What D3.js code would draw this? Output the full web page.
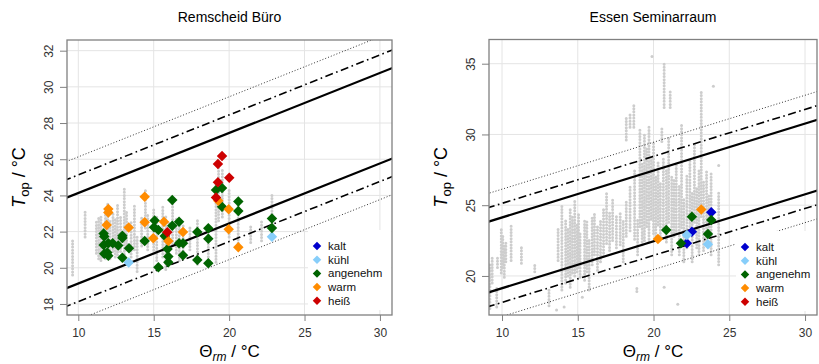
<!DOCTYPE html>
<html>
<head>
<meta charset="utf-8">
<script src="https://cdn.jsdelivr.net/npm/d3@7"></script>
<style>
    body { margin: 0; background: #fff; }
    svg { font-family: "Liberation Sans", Arial, sans-serif; }
</style>
</head>
<body>
<svg id="chart" width="819" height="364"></svg>
<script>
// categories of the comfort vote
var voteLabels = ["kalt", "kühl", "angenehm", "warm", "heiß"];
var voteColors = ["#0000cd", "#87cefa", "#006400", "#ff8c00", "#cd0000"];

// axis ticks
var xTicks = [10, 15, 20, 25, 30];
var remscheidYTicks = [18, 20, 22, 24, 26, 28, 30, 32];
var essenYTicks = [20, 25, 30, 35];

// comfort boundaries, value at Θrm = 9 and Θrm = 31
var boundX = [9, 31];
var upperII = [23.8, 31.1];
var lowerII = [18.8, 26.1];
var upperIII = [24.8, 32.1];
var lowerIII = [17.8, 25.1];
var upperIV = [25.8, 33.1];
var lowerIV = [16.8, 24.1];

// hourly measurements, as columns [Θrm, Top from, Top to]
var remscheidMeasured = [
    [9.62, 19.6, 21.6], [10.45, 21.7, 23.2], [11.2, 20.8, 22.6], [11.35, 20.5, 22.8],
    [11.5, 20.4, 22.9], [11.65, 20.6, 22.3], [11.8, 20.5, 23.4], [11.95, 20.6, 23.6],
    [12.1, 20.5, 22.7], [12.3, 20.9, 23.0], [12.45, 20.6, 22.8], [12.6, 20.7, 23.5],
    [12.8, 20.9, 22.9], [13.05, 20.4, 24.4], [13.2, 21.0, 23.1], [13.5, 20.6, 22.5],
    [13.72, 21.0, 23.4], [13.9, 19.8, 21.7], [14.2, 21.2, 22.8], [14.45, 22.2, 24.3],
    [14.6, 21.0, 23.0], [15.0, 20.8, 23.2], [15.2, 20.4, 22.8], [15.6, 20.6, 23.4],
    [15.8, 19.9, 22.9], [16.0, 20.4, 22.5], [16.25, 21.3, 24.0], [16.5, 20.8, 22.8],
    [16.7, 20.4, 22.6], [16.95, 20.6, 22.4], [17.4, 21.0, 22.3], [17.9, 20.2, 22.6],
    [18.62, 20.1, 22.4], [19.13, 20.3, 24.6], [19.3, 22.6, 26.0], [19.55, 22.8, 25.4],
    [20.0, 21.7, 24.3], [20.6, 21.2, 23.9], [21.43, 21.4, 22.4], [22.15, 21.5, 22.6],
    [22.84, 21.6, 24.1]
];

var essenMeasured = [
    [9.2, 17.7, 20.8], [9.35, 19.5, 21.4], [9.65, 17.8, 19.3], [9.7, 20.6, 21.4],
    [9.95, 20.2, 23.4], [10.05, 20.6, 22.8], [10.15, 19.9, 22.2], [10.25, 21.0, 22.5],
    [10.6, 21.1, 23.7], [11.28, 20.9, 22.1], [12.16, 20.3, 20.9], [13.1, 17.9, 19.0],
    [13.6, 17.6, 17.7], [13.7, 21.1, 23.3], [13.95, 19.0, 25.0], [14.1, 17.8, 17.9],
    [14.2, 19.5, 24.0], [14.35, 20.0, 23.5], [14.5, 19.2, 24.7], [14.65, 20.2, 24.2],
    [14.8, 20.0, 25.4], [14.95, 20.3, 23.6], [15.05, 20.6, 24.5], [15.15, 19.9, 23.0],
    [15.3, 18.5, 18.7], [15.45, 19.7, 24.0], [15.6, 20.3, 23.9], [15.75, 19.0, 22.6],
    [15.95, 20.8, 24.3], [16.1, 21.5, 24.4], [16.3, 20.4, 23.6], [16.5, 21.0, 24.0],
    [16.7, 21.4, 24.8], [16.9, 22.3, 25.9], [17.1, 21.8, 24.6], [17.3, 22.5, 25.5],
    [17.55, 22.0, 24.2], [17.8, 22.2, 24.6], [18.0, 21.0, 24.0], [18.2, 22.8, 25.3],
    [18.2, 29.6, 31.3], [18.45, 23.2, 26.4], [18.45, 30.5, 31.5], [18.7, 30.5, 32.1],
    [18.75, 22.6, 27.6], [18.9, 18.9, 19.3], [18.95, 21.5, 24.0], [19.1, 23.5, 30.5],
    [19.25, 22.2, 28.0], [19.4, 22.5, 30.0], [19.55, 23.5, 29.0], [19.7, 22.4, 30.6],
    [19.85, 24.0, 28.5], [19.9, 35.5, 35.6], [20.0, 23.0, 29.4], [20.15, 22.6, 27.0],
    [20.3, 23.6, 28.0], [20.45, 22.8, 26.6], [20.55, 29.5, 30.5], [20.65, 23.2, 28.4],
    [20.7, 31.9, 35.0], [20.7, 19.2, 19.3], [20.85, 22.4, 27.5], [21.0, 23.8, 29.8],
    [21.1, 31.9, 33.2], [21.2, 21.5, 27.0], [21.35, 22.8, 26.8], [21.5, 23.0, 28.0],
    [21.6, 18.0, 18.1], [21.7, 21.5, 26.5], [21.85, 23.4, 30.8], [22.0, 21.0, 25.6],
    [22.2, 22.0, 27.2], [22.4, 23.5, 28.3], [22.55, 21.0, 26.0], [22.7, 23.8, 29.4],
    [22.85, 22.0, 26.3], [23.0, 21.5, 27.5], [23.15, 24.2, 33.0], [23.3, 21.8, 26.8],
    [23.5, 22.3, 27.4], [23.65, 22.8, 25.8], [23.8, 21.5, 27.3], [23.95, 33.4, 33.5],
    [24.3, 20.8, 26.0], [24.3, 27.8, 27.9]
];

// comfort votes [Θrm, Top]
var remscheidKalt = [];
var remscheidKuehl = [[13.34, 20.29], [22.84, 21.72]];
var remscheidAngenehm = [
    [11.68, 21.9], [11.72, 21.73], [11.68, 21.26], [11.72, 20.77], [11.92, 20.84],
    [11.99, 20.66], [11.99, 21.36], [12.28, 21.36], [12.65, 21.23], [12.92, 21.77],
    [12.92, 21.65], [12.92, 20.56], [13.36, 21.08], [14.40, 21.48], [15.02, 22.24],
    [15.06, 22.61], [15.31, 22.09], [15.31, 20.03], [15.73, 21.76], [15.92, 21.04],
    [15.97, 20.62], [15.97, 20.31], [16.23, 23.75], [16.23, 22.33], [16.68, 22.55],
    [16.68, 21.36], [16.94, 21.36], [16.94, 20.69], [17.89, 21.98], [17.89, 20.43],
    [18.62, 22.18], [18.62, 21.61], [18.62, 20.25], [19.13, 24.30], [19.53, 24.41],
    [19.53, 23.38], [20.61, 23.66], [20.61, 23.14], [22.84, 22.72], [22.84, 22.20]
];
var remscheidWarm = [
    [11.99, 23.25], [11.99, 23.05], [11.88, 22.37], [13.34, 22.22], [14.40, 23.93],
    [14.40, 22.52], [14.97, 21.63], [15.68, 22.55], [15.97, 21.48], [16.94, 21.98],
    [19.28, 23.71], [19.97, 23.23], [19.97, 22.13], [20.61, 21.13]
];
var remscheidHeiss = [
    [19.26, 25.74], [19.53, 26.18], [19.26, 24.73], [19.13, 23.88], [20.01, 24.98],
    [15.90, 21.96]
];

var essenKalt = [[22.20, 22.31], [22.53, 23.13], [23.81, 24.5]];
var essenKuehl = [[22.20, 22.90], [23.59, 22.24]];
var essenAngenehm = [[20.84, 23.25], [21.81, 22.31], [22.53, 24.19], [23.81, 23.96], [23.59, 22.97]];
var essenWarm = [[20.29, 22.61], [23.15, 24.69]];
var essenHeiss = [];

var svg = d3.select("#chart");

var GRAY_DOT = "#cdcdcd";
var GRID = "#e4e4e4";
var FRAME = "#808080";

function diamond(size) {
    // R pch 18: a square turned by 45 degrees, size = diagonal
    var s = size / Math.SQRT2;
    return d3.symbol().type(d3.symbolSquare).size(s * s)();
}

function drawPanel(p) {
    var x = d3.scaleLinear().domain(p.xDomain).range([p.left, p.right]);
    var y = d3.scaleLinear().domain(p.yDomain).range([p.bottom, p.top]);
    var g = svg.append("g");

    g.append("clipPath").attr("id", p.id + "-clip")
        .append("rect")
        .attr("x", p.left).attr("y", p.top)
        .attr("width", p.right - p.left).attr("height", p.bottom - p.top);

    var plot = g.append("g").attr("clip-path", "url(#" + p.id + "-clip)");

    // grid
    plot.selectAll(".gx").data(xTicks).enter().append("line")
        .attr("x1", function(d) { return x(d); })
        .attr("x2", function(d) { return x(d); })
        .attr("y1", p.top).attr("y2", p.bottom)
        .attr("stroke", GRID).attr("stroke-width", 1);
    plot.selectAll(".gy").data(p.yTicks).enter().append("line")
        .attr("y1", function(d) { return y(d); })
        .attr("y2", function(d) { return y(d); })
        .attr("x1", p.left).attr("x2", p.right)
        .attr("stroke", GRID).attr("stroke-width", 1);

    // measured hours
    plot.selectAll(".run").data(p.measured).enter().append("path")
        .attr("d", function(d) {
            return "M" + x(d[0]) + "," + y(d[1]) + "L" + x(d[0]) + "," + (y(d[2]) - 0.01);
        })
        .attr("fill", "none")
        .attr("stroke", GRAY_DOT)
        .attr("stroke-width", 3)
        .attr("stroke-linecap", "round")
        .attr("stroke-dasharray", "0 3.1");

    // comfort boundaries
    var bounds = [
        { v: upperIV, w: 0.8, dash: "1 2" },
        { v: lowerIV, w: 0.8, dash: "1 2" },
        { v: upperIII, w: 1.6, dash: "8 3.5 1.6 3.5" },
        { v: lowerIII, w: 1.6, dash: "8 3.5 1.6 3.5" },
        { v: upperII, w: 2.2, dash: null },
        { v: lowerII, w: 2.2, dash: null }
    ];
    bounds.forEach(function(b) {
        plot.append("line")
            .attr("x1", x(boundX[0])).attr("y1", y(b.v[0]))
            .attr("x2", x(boundX[1])).attr("y2", y(b.v[1]))
            .attr("stroke", "#000")
            .attr("stroke-width", b.w)
            .attr("stroke-dasharray", b.dash);
    });

    // votes
    var mark = diamond(10.5);
    p.votes.forEach(function(pts, i) {
        plot.selectAll(".v" + i).data(pts).enter().append("path")
            .attr("d", mark)
            .attr("transform", function(d) {
                return "translate(" + x(d[0]) + "," + y(d[1]) + ") rotate(45)";
            })
            .attr("fill", voteColors[i]);
    });

    // legend
    g.append("rect")
        .attr("x", p.legendX).attr("y", p.legendY)
        .attr("width", p.right - p.legendX - 0.5).attr("height", 80)
        .attr("fill", "#fff");
    var item = g.selectAll(".leg").data(voteLabels).enter().append("g")
        .attr("transform", function(d, i) {
            return "translate(" + (p.legendX + 9) + "," + (p.legendY + 16 + i * 13.7) + ")";
        });
    item.append("path")
        .attr("d", diamond(8.5))
        .attr("transform", "rotate(45)")
        .attr("fill", function(d, i) { return voteColors[i]; });
    item.append("text")
        .attr("x", 11).attr("dy", "0.35em")
        .style("font-size", "11.5px")
        .attr("fill", "#111")
        .text(function(d) { return d; });

    // frame
    g.append("rect")
        .attr("x", p.left).attr("y", p.top)
        .attr("width", p.right - p.left).attr("height", p.bottom - p.top)
        .attr("fill", "none").attr("stroke", FRAME).attr("stroke-width", 1.3);

    // axes
    var ax = g.append("g")
        .attr("transform", "translate(0," + p.bottom + ")")
        .call(d3.axisBottom(x).tickValues(xTicks).tickSize(6).tickFormat(d3.format("d")));
    ax.select(".domain").remove();
    ax.selectAll("line").attr("stroke", FRAME);
    ax.selectAll("text")
        .attr("dy", null).attr("y", 22)
        .attr("fill", "#333")
        .style("font-size", "12px").style("font-family", null);

    var ay = g.append("g")
        .attr("transform", "translate(" + p.left + ",0)")
        .call(d3.axisLeft(y).tickValues(p.yTicks).tickSize(7).tickFormat(d3.format("d")));
    ay.select(".domain").remove();
    ay.selectAll("line").attr("stroke", FRAME);
    ay.selectAll("text")
        .attr("x", null).attr("dy", null)
        .attr("text-anchor", "middle")
        .attr("transform", "translate(-14,0) rotate(-90)")
        .attr("fill", "#333")
        .style("font-size", "12px").style("font-family", null);

    // titles
    var cx = (p.left + p.right) / 2;
    var cy = (p.top + p.bottom) / 2;
    svg.append("text")
        .attr("x", cx).attr("y", 22)
        .attr("text-anchor", "middle")
        .style("font-size", "14px")
        .text(p.title);

    var xt = svg.append("text")
        .attr("x", cx).attr("y", 357)
        .attr("text-anchor", "middle")
        .style("font-size", "17px");
    xt.append("tspan").text("Θ");
    xt.append("tspan").attr("dy", 4).style("font-size", "12px").style("font-style", "italic").text("rm");
    xt.append("tspan").attr("dy", -4).text("  / °C");

    var yt = svg.append("text")
        .attr("transform", "translate(" + (p.left - 42) + "," + cy + ") rotate(-90)")
        .attr("text-anchor", "middle")
        .style("font-size", "18px");
    yt.append("tspan").style("font-style", "italic").text("T");
    yt.append("tspan").attr("dy", 4).style("font-size", "13px").text("op");
    yt.append("tspan").attr("dy", -4).text(" / °C");
}

drawPanel({
    id: "remscheid",
    title: "Remscheid Büro",
    left: 67, right: 392, top: 40, bottom: 315,
    xDomain: [9.25, 30.8], yDomain: [17.39, 32.59],
    yTicks: remscheidYTicks,
    measured: remscheidMeasured,
    votes: [remscheidKalt, remscheidKuehl, remscheidAngenehm, remscheidWarm, remscheidHeiss],
    legendX: 308, legendY: 230
});

drawPanel({
    id: "essen",
    title: "Essen Seminarraum",
    left: 489, right: 817, top: 39.5, bottom: 315,
    xDomain: [9.14, 30.79], yDomain: [17.24, 36.71],
    yTicks: essenYTicks,
    measured: essenMeasured,
    votes: [essenKalt, essenKuehl, essenAngenehm, essenWarm, essenHeiss],
    legendX: 736, legendY: 231
});
</script>
</body>
</html>
